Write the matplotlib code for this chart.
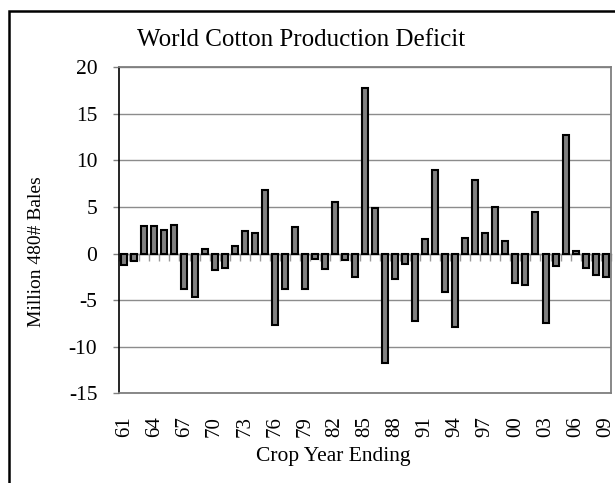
#!/usr/bin/env python3
"""World cotton production deficit by crop year, Excel-style bar chart."""

import numpy as np
import matplotlib.pyplot as plt
from matplotlib.patches import Rectangle

# crop year ending, 1961..2009
years = [f"{y % 100:02d}" for y in range(1961, 2010)]
deficit = [
    -1.2, -0.8, 3.0, 3.0, 2.55, 3.1, -3.8, -4.7, 0.5, -1.75,
    -1.6, 0.8, 2.4, 2.2, 6.8, -7.65, -3.8, 2.85, -3.8, -0.55,
    -1.65, 5.5, -0.7, -2.5, 17.8, 4.85, -11.8, -2.75, -1.07, -7.2,
    1.57, 9.0, -4.1, -7.9, 1.7, 7.9, 2.2, 5.0, 1.36, -3.2,
    -3.4, 4.5, -7.5, -1.3, 12.7, 0.3, -1.5, -2.25, -2.5,
]
y_ticks = [-15, -10, -5, 0, 5, 10, 15, 20]

plt.rcParams.update({"font.family": ["Liberation Serif", "DejaVu Serif"]})

W, H = 615, 483
PX = 72 / 100  # points per pixel at dpi 100
fig = plt.figure(figsize=(W / 100, H / 100), dpi=100)
ax = fig.add_axes([119.3 / W, 1 - 393.3 / H, 491.4 / W, 326 / H])

x = np.arange(len(years))
ax.bar(x, deficit, width=0.6, color="#808080", edgecolor="black",
       linewidth=1.5, zorder=3)

ax.set_xlim(-0.5, len(years) - 0.5)
ax.set_ylim(-15, 20)
ax.set_yticks(y_ticks)
ax.set_yticklabels([str(v) for v in y_ticks])
ax.tick_params(axis="y", direction="out", length=6 * PX, width=1,
               color="#808080", pad=16 * PX, labelsize=15.5)
ax.yaxis.grid(True, color="#8c8c8c", linewidth=1, zorder=0)
ax.set_axisbelow(True)

# category labels every third year, rotated, at the bottom of the plot area
ax.set_xticks(x[::3])
ax.set_xticklabels(years[::3], rotation=90, ha="center", va="top")
ax.tick_params(axis="x", length=0, pad=23 * PX, labelsize=15)

for side in ("top", "right", "bottom"):
    ax.spines[side].set_color("#7f7f7f")
    ax.spines[side].set_linewidth(1.3)
ax.spines["left"].set_color("black")
ax.spines["left"].set_linewidth(1.2)

# zero line with category boundary ticks
zero = ax.secondary_xaxis(15 / 35)
zero.set_xticks(np.arange(-0.5, len(years), 1.0))
zero.set_xticklabels([])
zero.tick_params(direction="out", length=7 * PX, width=1, color="#9a9a9a")
zero.spines["bottom"].set_color("#7f7f7f")
zero.spines["bottom"].set_linewidth(1)

fig.text(301 / W, 1 - 40 / H, "World Cotton Production Deficit",
         ha="center", va="center", fontsize=18)
fig.text(333 / W, 1 - 456 / H, "Crop Year Ending",
         ha="center", va="center", fontsize=15.5)
fig.text(37 / W, 1 - 252 / H, "Million 480# Bales",
         ha="center", va="center", rotation=90, fontsize=14)

# outer chart frame (right and bottom edges fall outside the image)
fig.patches.append(Rectangle((8.5 / W, -0.1), 1.2, 1.1 - 11.3 / H,
                             transform=fig.transFigure, fill=False,
                             edgecolor="black", linewidth=1.8))

fig.savefig("out.png", dpi=100)
